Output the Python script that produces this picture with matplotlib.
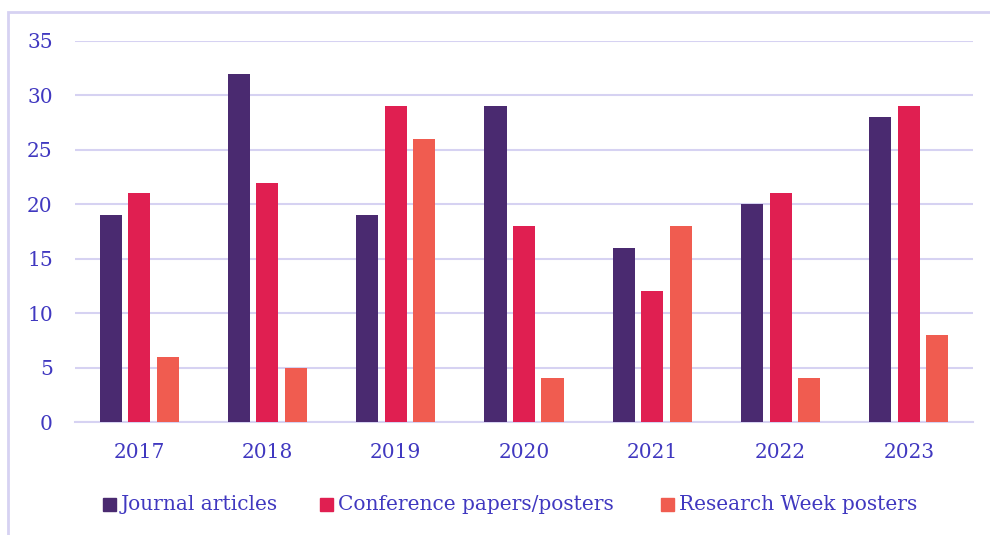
import numpy as np
import matplotlib
matplotlib.use("Agg")
import matplotlib.pyplot as plt
from matplotlib.patches import Rectangle

years = ["2017", "2018", "2019", "2020", "2021", "2022", "2023"]
journal = [19, 32, 19, 29, 16, 20, 28]
conference = [21, 22, 29, 18, 12, 21, 29]
research_week = [6, 5, 26, 4, 18, 4, 8]
series_names = ["Journal articles", "Conference papers/posters", "Research Week posters"]

colors = ["#4A2A70", "#E01F51", "#F05C50"]
txt = "#4038C0"
grid_c = "#D6D2F2"
W, H = 990, 535

plt.rcParams["font.family"] = ["DejaVu Serif"]

fig = plt.figure(figsize=(W / 100, H / 100), dpi=100)
# outer frame (partly cut by the image edge)
fig.patches.append(Rectangle((8 / W, -0.1), 1.2, 1 - 12 / H + 0.1,
                             transform=fig.transFigure, fill=False,
                             edgecolor=grid_c, lw=2))

ax = fig.add_axes([75 / W, 1 - 422 / H, 898 / W, 381 / H])
x = np.arange(len(years))
pitch = 0.222
w = 0.172
for i, vals in enumerate([journal, conference, research_week]):
    ax.bar(x + (i - 1) * pitch, vals, w, color=colors[i], zorder=3)

ax.set_xlim(-0.5, len(years) - 0.5)
ax.set_ylim(0, 35)
ax.set_yticks(range(0, 36, 5))
ax.set_xticks(x)
ax.set_xticklabels(years)
ax.yaxis.grid(True, color=grid_c, lw=1.5, zorder=0)
ax.set_axisbelow(True)
for s in ["top", "right", "left"]:
    ax.spines[s].set_visible(False)
ax.spines["bottom"].set_color(grid_c)
ax.spines["bottom"].set_linewidth(1.5)
ax.tick_params(axis="both", length=0, labelsize=14.5, colors=txt)
ax.tick_params(axis="y", pad=16)
ax.tick_params(axis="x", pad=15)

# legend entries laid out like the original (fixed slots)
legend_x = [103, 320, 661]
ly = 1 - 504 / H
for i, name in enumerate(series_names):
    x0 = legend_x[i] / W
    fig.patches.append(Rectangle((x0, ly - 6.5 / H), 13 / W, 13 / H,
                                 transform=fig.transFigure, color=colors[i]))
    fig.text(x0 + 18 / W, ly, name, color=txt, fontsize=14.5, va="center", ha="left")

fig.savefig("out.png", dpi=100)
